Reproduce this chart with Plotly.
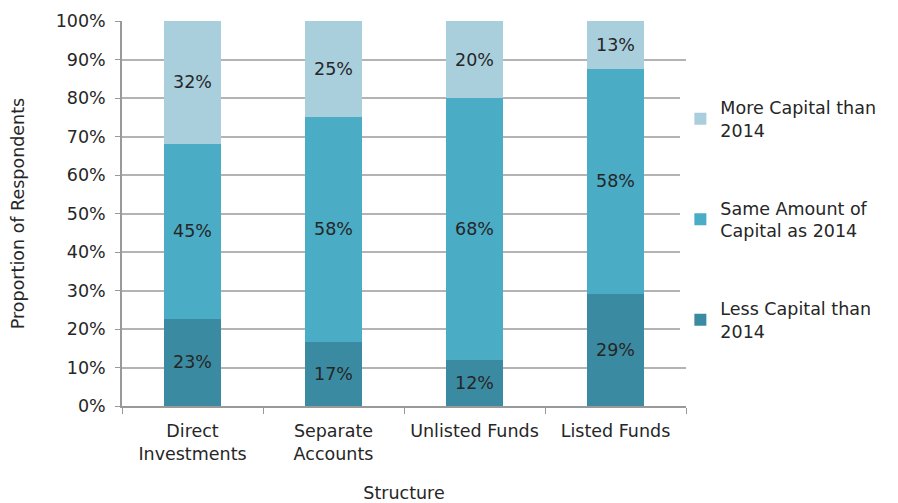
import plotly.graph_objects as go

categories = ["Direct<br>Investments", "Separate<br>Accounts", "Unlisted Funds", "Listed Funds"]
less_capital = [22.7, 16.7, 12.0, 29.2]
same_capital = [45.4, 58.3, 68.0, 58.3]
more_capital = [31.9, 25.0, 20.0, 12.5]
series_names = ["Less Capital than<br>2014", "Same Amount of<br>Capital as 2014", "More Capital than<br>2014"]
series_colors = ["#3a8ba1", "#4aacc5", "#a9cfdd"]
y_ticks = [0, 10, 20, 30, 40, 50, 60, 70, 80, 90, 100]
y_tick_labels = ["0%", "10%", "20%", "30%", "40%", "50%", "60%", "70%", "80%", "90%", "100%"]

FONT = "DejaVu Sans"
SIZE = 17.5
TEXT = "#262626"


def pct(v):
    return f"{int(v + 0.5)}%"


fig = go.Figure()
for i, (name, vals, col) in enumerate(zip(series_names, [less_capital, same_capital, more_capital], series_colors)):
    fig.add_trace(go.Bar(
        x=categories, y=vals, name=name, legendgroup=f"g{i}", legendrank=3 - i,
        marker=dict(color=col, line=dict(width=0)),
        text=[pct(v) for v in vals], textposition="inside", insidetextanchor="middle",
        textfont=dict(family=FONT, size=SIZE, color=TEXT),
        hoverinfo="skip",
    ))

fig.update_layout(
    barmode="stack", bargap=0.6,
    width=890, height=495,
    margin=dict(l=114, r=212, t=13, b=97, autoexpand=False),
    paper_bgcolor="white", plot_bgcolor="white",
    font=dict(family=FONT, size=SIZE, color=TEXT),
    legend=dict(x=0.99, y=0.822, xanchor="left", yanchor="top",
                traceorder="grouped", tracegroupgap=52,
                font=dict(family=FONT, size=SIZE, color=TEXT),
                itemwidth=30),
    showlegend=True,
)
fig.update_xaxes(
    automargin=False,
    showline=True, linecolor="#999999", linewidth=1.5,
    ticks="outside", tickson="boundaries", ticklen=6, tickcolor="#999999",
    ticklabelstandoff=8,
    tickfont=dict(family=FONT, size=SIZE, color=TEXT),
    title=dict(text="Structure", font=dict(family=FONT, size=SIZE, color=TEXT), standoff=25),
    showgrid=False,
)
fig.update_yaxes(
    automargin=False,
    range=[0, 100], tickmode="array", tickvals=y_ticks, ticktext=y_tick_labels,
    showline=True, linecolor="#999999", linewidth=1.5,
    ticks="outside", ticklen=5, tickcolor="#999999",
    ticklabelstandoff=6,
    showgrid=True, gridcolor="#b3b3b3", gridwidth=1.5,
    tickfont=dict(family=FONT, size=SIZE, color=TEXT),
    title=dict(text="Proportion of Respondents", font=dict(family=FONT, size=SIZE, color=TEXT), standoff=34),
    zeroline=False,
)

fig.write_html("out.html")
